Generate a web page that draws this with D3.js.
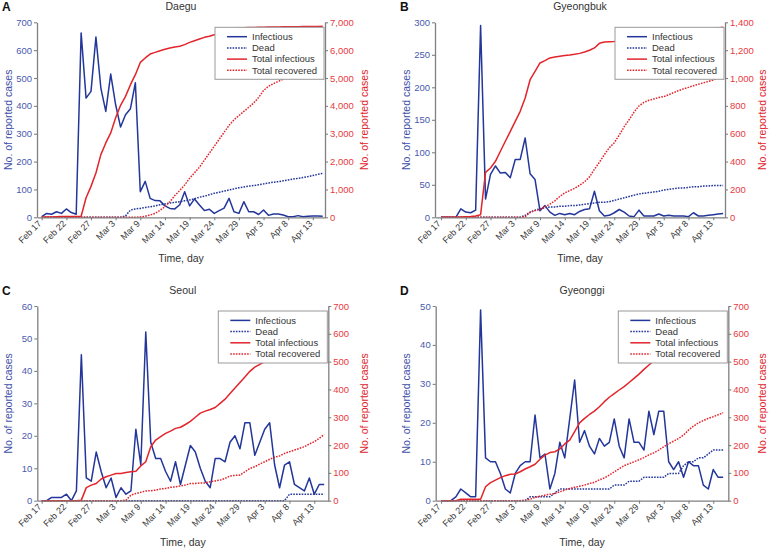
<!DOCTYPE html>
<html>
<head>
<meta charset="utf-8">
<script src="https://cdn.jsdelivr.net/npm/d3@7"></script>
<style>
  body { margin: 0; background: #fff; }
  svg { display: block; font-family: "Liberation Sans", Arial, sans-serif; }
</style>
</head>
<body>
<div id="chart"></div>
<script>
// day index 0 = Feb 17, 58 daily points
var tickDays = [0, 5, 10, 15, 20, 25, 30, 35, 40, 45, 50, 55];
var tickLabels = ["Feb 17", "Feb 22", "Feb 27", "Mar 3", "Mar 9", "Mar 14", "Mar 19", "Mar 24", "Mar 29", "Apr 3", "Apr 8", "Apr 13"];
var seriesNames = ["Infectious", "Dead", "Total infectious", "Total recovered"];

// Daegu
var daeguInfectious = [2,14,11,20,14,30,17,11,662,428,452,647,464,380,514,404,324,368,390,483,92,129,68,60,59,41,32,30,45,92,41,66,44,24,29,14,24,33,68,20,14,56,20,20,10,26,7,12,12,8,2,2,6,2,4,5,5,4];
var daeguDead = [0,0,0,0,0,0,0,0,0,0,0,0,0,0,0,0,0,5,26,30,32,35,38,41,45,48,51,54,56,59,62,67,72,76,81,86,90,94,98,102,106,109,112,114,117,120,123,126,128,131,134,137,140,143,146,150,154,158];
var daeguTotal = [5,10,15,20,25,25,30,30,40,700,1110,1590,2250,2670,3030,3570,4020,4340,4760,5120,5560,5720,5860,5920,5980,6030,6080,6115,6140,6200,6280,6340,6400,6460,6500,6550,6610,6670,6720,6760,6790,6800,6810,6815,6820,6825,6830,6832,6835,6838,6840,6842,6844,6846,6848,6850,6852,6855];
var daeguRecovered = [0,0,0,0,0,0,0,0,0,0,0,0,0,0,0,0,0,0,0,0,10,40,80,140,250,380,560,780,960,1160,1400,1600,1800,2050,2300,2550,2800,3050,3300,3500,3650,3800,3950,4100,4300,4550,4700,4800,4880,4960,5050,5150,5250,5320,5380,5440,5500,5550];

// Gyeongbuk
var gbInfectious = [0,0,0,0,13,8,7,11,295,28,66,79,68,69,61,89,89,122,67,58,10,18,8,3,6,4,6,4,9,12,13,40,10,2,3,7,12,8,2,1,11,2,2,2,5,2,3,2,2,2,1,7,2,2,3,4,5,6];
var gbDead = [0,0,0,0,0,0,0,0,0,0,0,0,0,0,0,0,0,3,8,11,13,15,16,16,17,17,18,18,19,20,21,22,23,23,24,26,28,30,32,34,36,37,38,39,40,42,43,44,45,45,46,47,47,48,48,49,49,49];
var gbTotal = [0,0,0,0,2,4,6,10,19,323,354,402,474,546,617,689,761,857,988,1048,1108,1125,1144,1151,1156,1161,1165,1170,1177,1187,1199,1216,1249,1259,1261,1263,1268,1274,1281,1290,1298,1304,1309,1314,1318,1322,1325,1329,1332,1336,1340,1344,1347,1350,1353,1356,1359,1364];
var gbRecovered = [0,0,0,0,0,0,0,0,0,0,0,0,0,0,0,0,0,5,35,48,57,75,95,118,150,175,192,208,230,255,290,345,395,450,500,535,590,650,700,755,800,825,840,850,860,866,880,895,910,922,933,945,955,965,975,986,1000,1012];

// Seoul
var seoulInfectious = [0,0,1,1,1,2,0,3,45,7,6,15,9,4,7,1,4,2,3,22,11,52,18,13,13,9,6,12,5,11,17,15,10,6,4,13,13,12,18,20,16,24,24,14,18,22,24,11,4,11,12,5,4,3,7,2,5,5];
var seoulDead = [0,0,0,0,0,0,0,0,0,0,0,0,0,0,0,0,0,0,0,0,0,0,0,0,0,0,0,0,0,0,0,0,0,0,0,0,0,0,0,0,0,0,0,0,0,0,0,0,0,0,2,2,2,2,2,2,2,2];
var seoulTotal = [0,0,0,0,0,0,0,0,2,47,56,62,78,86,92,98,98,101,104,106,125,140,194,218,230,242,250,260,264,274,285,300,315,322,328,335,350,365,385,405,425,445,465,480,490,500,512,525,540,552,563,573,583,591,598,604,610,620];
var seoulRecovered = [0,0,0,0,0,0,0,0,0,0,0,0,0,0,0,0,0,2,20,26,30,35,36,38,42,44,48,50,53,56,62,62,64,64,68,71,74,80,89,91,92,104,116,122,132,140,149,156,161,170,176,182,188,194,204,212,224,238];

// Gyeonggi
var ggInfectious = [0,0,0,1,3,2,1,1,49,11,10,10,7,3,2,7,9,10,10,22,11,12,3,7,15,11,21,31,15,18,14,12,16,14,15,21,14,11,21,15,15,13,23,17,23,23,10,8,10,6,10,9,9,4,3,8,6,6];
var ggDead = [0,0,0,0,0,0,0,0,0,0,0,0,0,0,0,0,0,0,1,1,1,1,1,2,3,3,3,3,3,3,3,3,3,3,3,4,4,4,5,5,5,6,6,6,6,6,7,7,7,9,10,10,11,11,12,13,13,13];
var ggTotal = [0,0,0,0,5,5,5,5,5,50,65,74,83,90,95,96,104,114,122,131,149,164,173,176,186,204,218,248,280,296,310,322,338,356,372,385,398,410,425,440,455,472,488,503,520,535,550,562,573,584,594,604,612,620,627,635,640,645];
var ggRecovered = [0,0,0,0,0,0,0,0,0,0,0,0,0,0,0,0,0,2,5,12,16,20,23,26,32,38,44,48,52,56,62,66,75,82,92,104,115,126,133,140,147,155,165,172,182,194,205,214,224,236,254,268,280,288,296,302,309,316];

var blue = "#23369a", red = "#e2242b";
var axisGray = "#808080";

var panels = [
  {letter: "A", title: "Daegu", left: 37, right: 325, top: 22.3, bottom: 217.3, x0: 41.7, step: 4.93,
   yMax: 700, yTicks: d3.range(0, 701, 100), y2Max: 7000, y2Ticks: d3.range(0, 7001, 1000),
   data: [daeguInfectious, daeguDead, daeguTotal, daeguRecovered], ox: 0, oy: 0},
  {letter: "B", title: "Gyeongbuk", left: 435, right: 725, top: 22.3, bottom: 217.3, x0: 441, step: 4.95,
   yMax: 300, yTicks: d3.range(0, 301, 50), y2Max: 1400, y2Ticks: d3.range(0, 1401, 200),
   data: [gbInfectious, gbDead, gbTotal, gbRecovered], ox: 398, oy: 0},
  {letter: "C", title: "Seoul", left: 37.3, right: 328.3, top: 306, bottom: 500.7, x0: 41.7, step: 4.956,
   yMax: 60, yTicks: d3.range(0, 61, 10), y2Max: 700, y2Ticks: d3.range(0, 701, 100),
   data: [seoulInfectious, seoulDead, seoulTotal, seoulRecovered], ox: 0, oy: 284},
  {letter: "D", title: "Gyeonggi", left: 435.7, right: 728.3, top: 306, bottom: 500.7, x0: 441, step: 4.95,
   yMax: 50, yTicks: d3.range(0, 51, 10), y2Max: 700, y2Ticks: d3.range(0, 701, 100),
   data: [ggInfectious, ggDead, ggTotal, ggRecovered], ox: 398, oy: 284}
];

var styles = [
  {color: blue, dash: null, axis: "left"},
  {color: blue, dash: "1.6,1.2", axis: "left"},
  {color: red, dash: null, axis: "right"},
  {color: red, dash: "1.6,1.2", axis: "right"}
];

var svg = d3.select("#chart").append("svg")
  .attr("width", 772)
  .attr("height", 549);

var fmt = d3.format(",");

panels.forEach(function(p) {
  var g = svg.append("g");

  var x = d3.scaleLinear()
    .domain([(p.left - p.x0) / p.step, (p.right - p.x0) / p.step])
    .range([p.left, p.right]);
  var y = d3.scaleLinear().domain([0, p.yMax]).range([p.bottom, p.top]);
  var y2 = d3.scaleLinear().domain([0, p.y2Max]).range([p.bottom, p.top]);

  // lines
  styles.forEach(function(s, k) {
    var sc = s.axis == "left" ? y : y2;
    var line = d3.line()
      .x(function(d, i) { return x(i); })
      .y(function(d) { return sc(d); });
    g.append("path")
      .datum(p.data[k])
      .attr("fill", "none")
      .attr("stroke", s.color)
      .attr("stroke-width", 1.5)
      .attr("stroke-dasharray", s.dash)
      .attr("stroke-linejoin", "round")
      .attr("d", line);
  });

  // axes
  var xa = g.append("g")
    .attr("transform", "translate(0," + p.bottom + ")")
    .call(d3.axisBottom(x).tickValues(tickDays).tickSize(3).tickSizeOuter(0)
      .tickFormat(function(d, i) { return tickLabels[i]; }));
  xa.selectAll("text")
    .attr("text-anchor", "end")
    .attr("x", -5).attr("y", 1.5).attr("dy", "0.35em")
    .attr("transform", "rotate(-45)")
    .attr("fill", "#3a3a3a")
    .style("font-size", "9px");

  var ya = g.append("g")
    .attr("transform", "translate(" + p.left + ",0)")
    .call(d3.axisLeft(y).tickValues(p.yTicks).tickSize(3).tickSizeOuter(0).tickPadding(2));
  ya.selectAll("text").attr("fill", "#4a5aae").style("font-size", "9.5px");

  var ya2 = g.append("g")
    .attr("transform", "translate(" + p.right + ",0)")
    .call(d3.axisRight(y2).tickValues(p.y2Ticks).tickSize(3).tickSizeOuter(0).tickPadding(2).tickFormat(fmt));
  ya2.selectAll("text").attr("fill", "#e8393e").style("font-size", "9.5px");

  g.selectAll(".domain").attr("stroke", axisGray).attr("stroke-width", 1.3);
  g.selectAll(".tick line").attr("stroke", axisGray).attr("stroke-width", 1.1);

  // legend, white box over the lines
  var lx = p.right - 110, ly = p.top + 5;
  var leg = g.append("g").attr("transform", "translate(" + lx + "," + ly + ")");
  leg.append("rect")
    .attr("width", 109).attr("height", 52)
    .attr("fill", "#fff").attr("stroke", "#9a9a9a").attr("stroke-width", 1);
  seriesNames.forEach(function(name, k) {
    var ry = 9.4 + k * 11.2;
    leg.append("line")
      .attr("x1", 12).attr("x2", 32).attr("y1", ry).attr("y2", ry)
      .attr("stroke", styles[k].color).attr("stroke-width", 1.5)
      .attr("stroke-dasharray", styles[k].dash);
    leg.append("text")
      .attr("x", 37).attr("y", ry + 3.4)
      .attr("fill", "#333")
      .style("font-size", "9.5px")
      .text(name);
  });

  // titles
  var midY = (p.top + p.bottom) / 2;
  g.append("text")
    .attr("x", (p.left + p.right) / 2).attr("y", p.oy + 10)
    .attr("text-anchor", "middle").attr("fill", "#333")
    .style("font-size", "10.5px")
    .text(p.title);
  g.append("text")
    .attr("x", p.ox + 2).attr("y", p.oy + 10.5)
    .attr("fill", "#111").style("font-weight", "bold").style("font-size", "12px")
    .text(p.letter);
  g.append("text")
    .attr("transform", "translate(" + (p.ox + 12) + "," + midY + ") rotate(-90)")
    .attr("text-anchor", "middle").attr("fill", "#3e4fa8")
    .style("font-size", "10.5px")
    .text("No. of reported cases");
  g.append("text")
    .attr("transform", "translate(" + (p.ox + 368) + "," + midY + ") rotate(-90)")
    .attr("text-anchor", "middle").attr("fill", red)
    .style("font-size", "10.5px")
    .text("No. of reported cases");
  g.append("text")
    .attr("x", (p.left + p.right) / 2).attr("y", p.bottom + 45)
    .attr("text-anchor", "middle").attr("fill", "#333")
    .style("font-size", "10.5px")
    .text("Time, day");
});
</script>
</body>
</html>
